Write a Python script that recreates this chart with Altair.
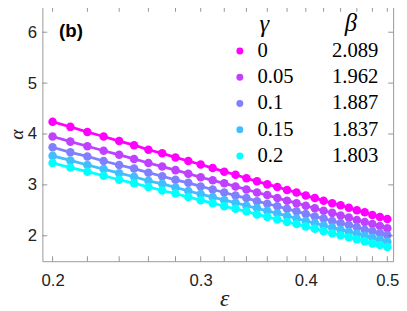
import altair as alt
import pandas as pd

# ---- data ----
eps = [0.20, 0.21, 0.22, 0.23, 0.24, 0.25, 0.26, 0.27, 0.28, 0.29, 0.30,
       0.31, 0.32, 0.33, 0.34, 0.35, 0.36, 0.37, 0.38, 0.39, 0.40,
       0.41, 0.42, 0.43, 0.44, 0.45, 0.46, 0.47, 0.48, 0.49, 0.50]

alpha_g0 = [4.24, 4.14, 4.04, 3.95, 3.86, 3.78, 3.69, 3.62, 3.54, 3.47, 3.40,
            3.33, 3.26, 3.20, 3.13, 3.07, 3.01, 2.96, 2.90, 2.85, 2.79,
            2.74, 2.69, 2.64, 2.60, 2.55, 2.50, 2.46, 2.41, 2.37, 2.33]
alpha_g005 = [3.95, 3.85, 3.76, 3.67, 3.59, 3.51, 3.43, 3.36, 3.29, 3.22, 3.15,
              3.09, 3.03, 2.97, 2.91, 2.85, 2.80, 2.74, 2.69, 2.64, 2.59,
              2.54, 2.49, 2.45, 2.40, 2.36, 2.31, 2.27, 2.23, 2.19, 2.15]
alpha_g01 = [3.74, 3.64, 3.56, 3.47, 3.39, 3.32, 3.24, 3.17, 3.10, 3.04, 2.97,
             2.91, 2.85, 2.79, 2.74, 2.68, 2.63, 2.58, 2.53, 2.48, 2.43,
             2.38, 2.34, 2.29, 2.25, 2.21, 2.17, 2.12, 2.09, 2.05, 2.01]
alpha_g015 = [3.57, 3.48, 3.39, 3.31, 3.23, 3.16, 3.08, 3.02, 2.95, 2.88, 2.82,
              2.76, 2.70, 2.65, 2.59, 2.54, 2.49, 2.44, 2.39, 2.34, 2.29,
              2.25, 2.20, 2.16, 2.12, 2.08, 2.04, 2.00, 1.96, 1.92, 1.88]
alpha_g02 = [3.43, 3.34, 3.26, 3.18, 3.10, 3.03, 2.96, 2.89, 2.83, 2.76, 2.70,
             2.64, 2.58, 2.53, 2.48, 2.42, 2.37, 2.32, 2.27, 2.23, 2.18,
             2.14, 2.09, 2.05, 2.01, 1.97, 1.93, 1.89, 1.85, 1.82, 1.78]

gammas = ["0", "0.05", "0.1", "0.15", "0.2"]
betas = ["2.089", "1.962", "1.887", "1.837", "1.803"]
colors = ["#FF00FF", "#BF40FF", "#8080FF", "#40BFFF", "#00FFFF"]

x_major = [0.2, 0.3, 0.4, 0.5]
x_minor = [0.20, 0.22, 0.24, 0.26, 0.28, 0.30, 0.32, 0.34, 0.36, 0.38, 0.40,
           0.42, 0.44, 0.46, 0.48, 0.50]
y_major = [2, 3, 4, 5, 6]

# ---- tables ----
series = [alpha_g0, alpha_g005, alpha_g01, alpha_g015, alpha_g02]
rows = []
for gi, (g, vals) in enumerate(zip(gammas, series)):
    for e, a in zip(eps, vals):
        rows.append({"eps": e, "alpha": a, "gamma": g, "order": gi})
df = pd.DataFrame(rows)
leg = pd.DataFrame({"gamma": gammas, "beta": betas, "row": list(range(len(gammas)))})
xt = pd.DataFrame({"eps": x_minor})
yt = pd.DataFrame({"alpha": y_major})

W, H = 357, 259
SANS = "Liberation Sans"
SERIF = "Liberation Serif"
TICK = "#666666"

xscale = alt.Scale(type="log", domain=[0.1945, 0.508], nice=False)
yscale = alt.Scale(domain=[1.5, 6.5], nice=False, zero=False)
xaxis = alt.Axis(values=x_major, format=".1f", ticks=False, domain=False, grid=False,
                 labelFont=SANS, labelFontSize=17, labelColor="#222", labelPadding=12,
                 title="ε", titleFont=SERIF, titleFontStyle="italic", titleFontWeight="normal",
                 titleFontSize=24, titleColor="#222", titlePadding=-2, titleX=185)
yaxis = alt.Axis(values=y_major, format="d", ticks=False, domain=False, grid=False,
                 labelFont=SANS, labelFontSize=17, labelColor="#222", labelPadding=6,
                 title="α", titleFont=SERIF, titleFontStyle="italic", titleFontWeight="normal",
                 titleFontSize=20, titleColor="#222", titlePadding=1)
X = alt.X("eps:Q", scale=xscale, axis=xaxis)
Y = alt.Y("alpha:Q", scale=yscale, axis=yaxis)
C = alt.Color("gamma:N", scale=alt.Scale(domain=gammas, range=colors), legend=None)

lines = alt.Chart(df).mark_line(strokeWidth=2.8).encode(x=X, y=Y, color=C, detail="gamma:N")
points = alt.Chart(df).mark_circle(size=75, opacity=1).encode(
    x=X, y=Y, color=C, order=alt.Order("order:Q"))

tick_bottom = alt.Chart(xt).mark_tick(orient="vertical", size=5, thickness=1, color=TICK).encode(
    x=X, y=alt.value(H - 2.5))
tick_top = alt.Chart(xt).mark_tick(orient="vertical", size=5, thickness=1, color=TICK).encode(
    x=X, y=alt.value(2.5))
tick_left = alt.Chart(yt).mark_tick(orient="horizontal", size=5, thickness=1, color=TICK).encode(
    y=Y, x=alt.value(2.5))
tick_right = alt.Chart(yt).mark_tick(orient="horizontal", size=5, thickness=1, color=TICK).encode(
    y=Y, x=alt.value(W - 2.5))

main = alt.layer(lines, points, tick_bottom, tick_top, tick_left, tick_right)

LY = alt.Y("row:O", scale=alt.Scale(type="point", range=[45, 152], padding=0), axis=None)
leg_dots = alt.Chart(leg).mark_circle(size=50, opacity=1).encode(
    x=alt.value(201), y=LY, color=C)
leg_g = alt.Chart(leg).mark_text(align="left", baseline="middle", font=SERIF, fontSize=21,
                                 color="black").encode(x=alt.value(219), y=LY, text="gamma:N")
leg_b = alt.Chart(leg).mark_text(align="right", baseline="middle", font=SERIF, fontSize=21,
                                 color="black").encode(x=alt.value(342), y=LY, text="beta:N")
hdr = pd.DataFrame({"t": ["γ"]})
hdr_g = alt.Chart(hdr).mark_text(align="left", baseline="middle", font=SERIF, fontSize=25,
                                 fontStyle="italic", color="black").encode(
    x=alt.value(221), y=alt.value(18), text="t:N")
hdr2 = pd.DataFrame({"t": ["β"]})
hdr_b = alt.Chart(hdr2).mark_text(align="center", baseline="middle", font=SERIF, fontSize=25,
                                  fontStyle="italic", color="black").encode(
    x=alt.value(314), y=alt.value(17), text="t:N")
lab = pd.DataFrame({"t": ["(b)"]})
panel = alt.Chart(lab).mark_text(align="left", baseline="middle", font=SANS, fontSize=19,
                                 fontWeight="bold", color="black").encode(
    x=alt.value(17), y=alt.value(25), text="t:N")

legend = alt.layer(leg_dots, leg_g, leg_b, hdr_g, hdr_b, panel)

chart = alt.layer(main, legend).resolve_scale(y="independent").properties(
    width=W, height=H,
    autosize=alt.AutoSizeParams(type="none"),
    padding={"left": 35, "top": -4, "right": 6, "bottom": 52},
).configure_view(stroke="#999999", strokeWidth=1)

chart.save("out.html", embed_options={"renderer": "svg", "actions": False})
